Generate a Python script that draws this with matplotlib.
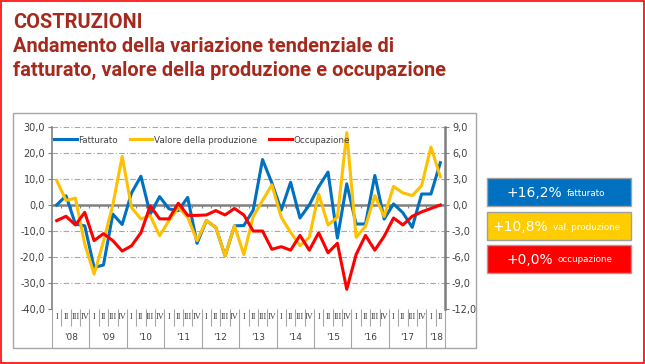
import numpy as np
import matplotlib.pyplot as plt
from matplotlib.patches import Rectangle
from matplotlib.lines import Line2D

# --- Data (variazioni tendenziali %, trimestrali 2008 Q1 - 2018 Q2) ---
years = ["'08", "'09", "'10", "'11", "'12", "'13", "'14", "'15", "'16", "'17", "'18"]
quarters = ["I", "II", "III", "IV"]

fatturato = [0.0, 3.5, -7.3, -8.0, -24.0, -23.0, -3.5, -7.5, 4.6, 11.0,
             -3.5, 3.2, -1.5, -2.2, 2.9, -14.7, -6.0, -8.6, -19.5, -8.0,
             -7.9, -2.0, 17.4, 8.4, -2.0, 8.7, -5.0, 0.0, 7.0, 12.6,
             -12.7, 8.1, -7.3, -7.3, 11.3, -5.4, 0.4, -3.0, -8.6, 4.2,
             4.2, 16.2]
valore_produzione = [9.4, 1.7, 2.6, -15.0, -26.5, -14.0, 0.0, 18.6, -1.0, -5.4,
                     -4.1, -11.8, -6.0, -1.0, -4.7, -13.7, -6.0, -8.6, -19.5, -8.0,
                     -19.0, -4.5, 1.7, 7.7, -4.7, -10.5, -15.6, -12.4, 4.2, -7.7,
                     -4.7, 27.7, -12.4, -8.2, 3.6, -4.4, 7.1, 4.6, 3.6, 7.4,
                     22.2, 10.8]
occupazione = [-1.8, -1.3, -2.3, -0.85, -4.1, -3.3, -4.1, -5.3, -4.7, -3.2,
               -0.1, -1.6, -1.6, 0.2, -1.2, -1.2, -1.15, -0.65, -1.15, -0.4,
               -1.15, -3.0, -3.0, -5.1, -4.8, -5.2, -3.5, -5.2, -3.2, -5.5,
               -4.4, -9.7, -5.7, -3.5, -5.2, -3.6, -1.5, -2.3, -1.3, -0.8,
               -0.4, 0.0]

box_values = ["+16,2%", "+10,8%", "+0,0%"]
box_labels = ["fatturato", "val. produzione", "occupazione"]

# --- Styles ---
W, H = 645, 364
c_blue, c_yellow, c_red = "#0070C0", "#FFC000", "#FF0000"
title_col = "#A52A1E"
txt_col = "#404040"
grid_col = "#A6A6A6"


def fx(px):
    return px / W


def fy(py):
    return 1 - py / H


fig = plt.figure(figsize=(W / 100, H / 100), dpi=100)

# outer red frame and grey chart frame
fig.patches.append(Rectangle((0.001, 0.002), 0.997, 0.996, transform=fig.transFigure,
                             fill=False, edgecolor="#FF0000", lw=1.2))
fig.patches.append(Rectangle((fx(13), fy(348)), fx(476) - fx(13), fy(113) - fy(348),
                             transform=fig.transFigure, fill=False,
                             edgecolor="#A6A6A6", lw=1.0))

# --- Title ---
tfont = dict(family="Roboto", weight="bold", color=title_col, fontsize=14.4, va="baseline")
fig.text(fx(13), fy(28), "COSTRUZIONI", **tfont)
fig.text(fx(13), fy(52), "Andamento della variazione tendenziale di", **tfont)
fig.text(fx(13), fy(76), "fatturato, valore della produzione e occupazione", **tfont)

# --- Main chart ---
ax = fig.add_axes([fx(52), fy(309.3), fx(445) - fx(52), fy(126.7) - fy(309.3)])
ax2 = ax.twinx()
n = len(fatturato)
x = np.arange(n)

ax.set_xlim(-0.5, n - 0.5)
ax.set_ylim(-40, 30)
ax2.set_ylim(-12, 9)

for v in range(-40, 31, 10):
    if v != 0:
        ax.axhline(v, color=grid_col, lw=0.8, ls=(0, (5, 2, 1, 2)), zorder=0)
ax.axhline(0, color="#808080", lw=1.8, zorder=1)
ax.vlines(x[1:] - 0.5, 0, -1.1, color="#808080", lw=0.8, zorder=1)

ax.plot(x, fatturato, color=c_blue, lw=2.2, zorder=3)
ax.plot(x, valore_produzione, color=c_yellow, lw=2.2, zorder=4)
ax2.plot(x, occupazione, color=c_red, lw=2.2, zorder=5)

ax.set_yticks(range(-40, 31, 10))
ax.set_yticklabels([f"{v:.1f}".replace(".", ",") for v in range(-40, 31, 10)])
ax2.set_yticks(range(-12, 10, 3))
ax2.set_yticklabels([f"{v:.1f}".replace(".", ",") for v in range(-12, 10, 3)])
for a in (ax, ax2):
    a.tick_params(axis="y", labelsize=7, labelcolor=txt_col, color="#808080",
                  length=3, width=0.8, pad=2)
    a.spines["top"].set_visible(False)
    a.spines["bottom"].set_visible(False)
ax.spines["left"].set_color("#808080")
ax.spines["left"].set_linewidth(1.2)
ax2.spines["left"].set_visible(False)
ax2.spines["right"].set_color("#808080")
ax2.spines["right"].set_linewidth(1.8)

# category axis: quarters + years
ax.set_xticks(x)
ax.set_xticklabels([quarters[i % 4] for i in x], family="Liberation Serif",
                   fontsize=6, color=txt_col)
ax.tick_params(axis="x", length=0, pad=3)
xt = ax.get_xaxis_transform()
q_bounds = [k - 0.5 for k in range(1, n) if k % 4 != 0]
y_bounds = [k - 0.5 for k in range(0, n + 1, 4)] + [n - 0.5]
ax.vlines(q_bounds, -0.093, 0, transform=xt, color=grid_col, lw=0.8, clip_on=False)
ax.vlines(y_bounds, -0.21, 0, transform=xt, color=grid_col, lw=0.8, clip_on=False)
for j, yr in enumerate(years):
    xc = (4 * j + min(4 * j + 3, n - 1)) / 2
    ax.text(xc, -0.157, yr, transform=xt, ha="center", va="center",
            fontsize=6.5, color=txt_col)

# legend
handles = [Line2D([], [], color=c, lw=2.2) for c in (c_blue, c_yellow, c_red)]
ax2.legend(handles, ["Fatturato", "Valore della produzione", "Occupazione"],
           loc="center left", bbox_to_anchor=(0.0, 0.927), ncol=3, frameon=False,
           fontsize=6.3, handlelength=2.6, handletextpad=0.15, columnspacing=1.4,
           borderaxespad=0, borderpad=0.2, labelcolor=txt_col)

# --- Right-hand summary boxes ---
box_cols = [c_blue, "#FFCC00", c_red]
box_tops = [178, 212, 245]
box_split = [562, 548, 553]
for col, top, split, val, lab in zip(box_cols, box_tops, box_split, box_values, box_labels):
    fig.patches.append(Rectangle((fx(487), fy(top + 28)), fx(631) - fx(487), fy(top) - fy(top + 28),
                                 transform=fig.transFigure, facecolor=col,
                                 edgecolor="#A0A0A0", lw=1.0))
    yc = fy(top + 15)
    fig.text(fx(split), yc, val, color="white", fontsize=10, ha="right", va="center")
    fig.text(fx(split + 5), yc, lab, color="white", fontsize=6.3, ha="left", va="center")

fig.savefig("out.png", dpi=100)
